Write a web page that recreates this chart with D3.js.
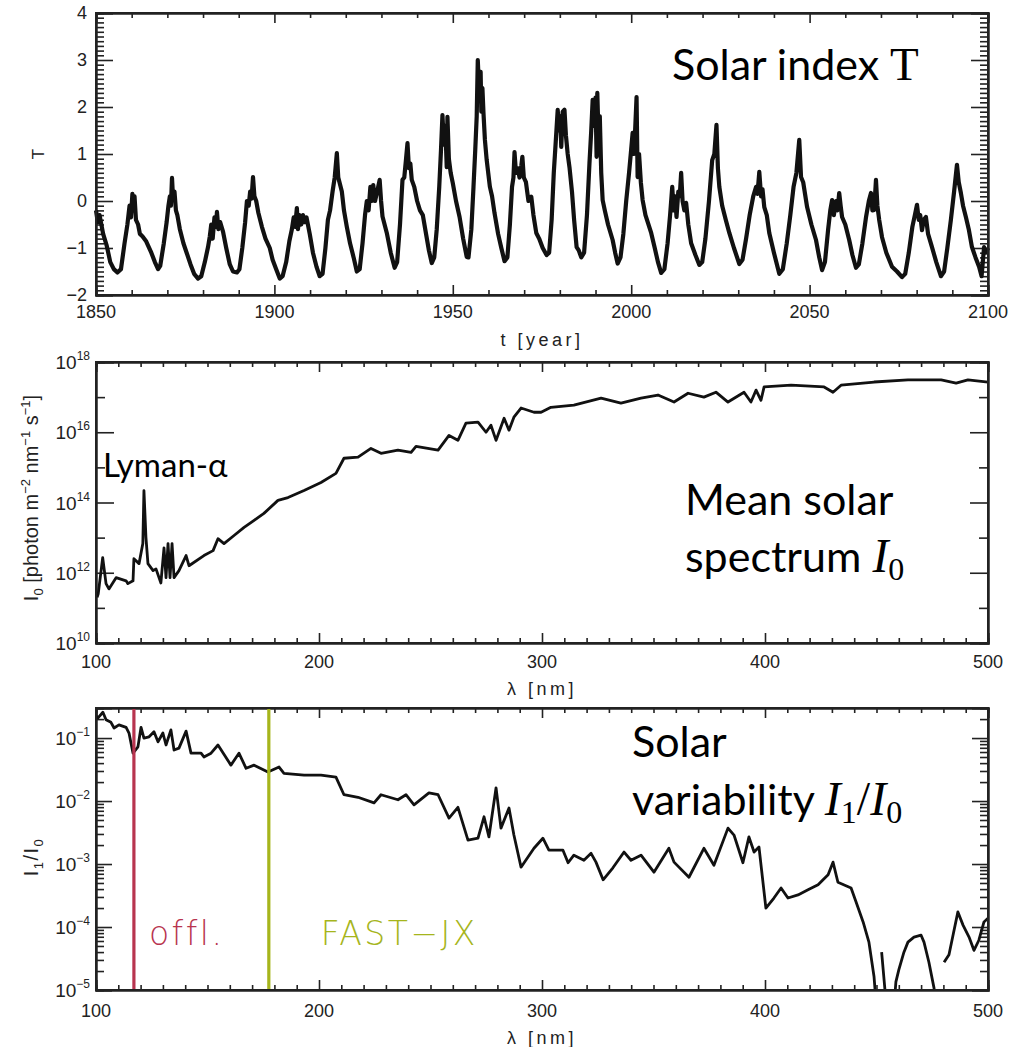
<!DOCTYPE html>
<html>
<head>
<meta charset="utf-8">
<script src="https://cdn.jsdelivr.net/npm/d3@7"></script>
<style>
body { margin: 0; background: #fff; }
svg { display: block; }
</style>
</head>
<body>
<div id="wrapper"></div>
<script>
// ---- data ----
// solar index T vs year
const solarIndex = [
[1850.0,-0.2],[1850.5,-0.45],[1851.0,-0.3],[1852.0,-0.7],[1853.0,-0.95],[1854.0,-1.3],[1855.0,-1.45],[1856.0,-1.52],[1857.0,-1.45],
[1858.0,-0.9],[1858.8,-0.5],[1859.4,-0.1],[1859.8,-0.35],[1860.2,0.15],[1860.5,-0.2],[1860.8,0.1],[1861.2,-0.4],[1861.8,-0.5],[1862.3,-0.7],
[1863.0,-0.75],[1864.0,-0.85],[1864.6,-0.95],[1865.5,-1.1],[1866.5,-1.3],[1867.4,-1.45],[1868.0,-1.38],[1869.0,-0.9],[1869.8,-0.45],
[1870.3,-0.1],[1870.7,0.1],[1871.0,-0.1],[1871.3,0.49],[1871.6,0.05],[1872.0,0.2],[1872.4,-0.2],[1872.8,-0.3],[1873.5,-0.6],[1874.5,-0.9],
[1875.4,-1.1],[1876.5,-1.35],[1877.5,-1.55],[1878.6,-1.65],[1879.5,-1.6],[1880.5,-1.3],[1881.4,-0.98],[1881.9,-0.75],[1882.3,-0.5],
[1882.7,-0.8],[1883.2,-0.35],[1883.6,-0.55],[1883.9,-0.23],[1884.3,-0.6],[1884.8,-0.45],[1885.6,-0.65],[1886.5,-1.0],[1887.5,-1.35],
[1888.4,-1.5],[1889.5,-1.52],[1890.2,-1.45],[1891.0,-1.0],[1891.8,-0.45],[1892.3,0.0],[1892.8,-0.1],[1893.2,0.2],[1893.6,0.05],[1894.0,0.51],
[1894.4,0.1],[1894.9,0.0],[1895.5,-0.25],[1896.5,-0.55],[1897.5,-0.8],[1898.7,-1.0],[1899.5,-1.25],[1900.5,-1.45],[1901.5,-1.65],
[1902.3,-1.6],[1903.3,-1.3],[1904.2,-0.85],[1904.9,-0.6],[1905.4,-0.35],[1905.8,-0.55],[1906.3,-0.15],[1906.6,-0.6],[1907.0,-0.3],
[1907.5,-0.5],[1908.0,-0.3],[1908.5,-0.45],[1909.0,-0.35],[1909.9,-0.7],[1910.8,-1.1],[1911.8,-1.4],[1912.7,-1.6],[1913.5,-1.55],
[1914.3,-1.0],[1915.0,-0.4],[1915.6,-0.2],[1916.3,0.2],[1916.9,0.5],[1917.5,1.02],[1917.9,0.5],[1918.4,0.35],[1918.9,0.2],[1919.5,-0.2],
[1920.3,-0.55],[1921.2,-0.9],[1922.2,-1.2],[1923.1,-1.5],[1923.9,-1.45],[1924.7,-0.9],[1925.4,-0.3],[1925.9,0.0],[1926.4,-0.2],
[1926.9,0.3],[1927.3,0.0],[1927.7,0.34],[1928.2,0.0],[1928.8,0.2],[1929.5,0.45],[1929.9,0.0],[1930.3,-0.33],[1931.5,-0.68],[1932.6,-1.1],
[1933.7,-1.42],[1934.4,-1.3],[1935.2,-0.5],[1935.9,0.45],[1936.4,0.5],[1936.9,0.9],[1937.3,1.23],[1937.7,0.7],[1938.1,0.8],[1938.5,0.45],
[1939.2,0.3],[1940.0,0.0],[1940.8,-0.2],[1941.6,-0.3],[1942.5,-0.7],[1943.3,-1.05],[1944.1,-1.32],[1944.8,-1.2],[1945.5,-0.6],[1946.2,0.3],
[1946.7,1.1],[1947.1,1.83],[1947.5,1.2],[1947.9,1.6],[1948.3,0.72],[1948.5,1.79],[1948.9,0.9],[1949.4,0.6],[1950.0,0.38],[1950.9,0.0],
[1951.9,-0.34],[1952.9,-0.8],[1953.9,-1.19],[1954.4,-1.2],[1955.2,-0.6],[1955.8,0.3],[1956.3,1.1],[1956.7,1.8],[1957.0,3.0],[1957.4,2.3],
[1957.8,2.75],[1958.0,1.9],[1958.3,2.4],[1958.6,1.87],[1959.0,1.3],[1959.5,0.87],[1960.4,0.3],[1961.0,0.1],[1961.7,-0.26],[1962.7,-0.7],
[1963.6,-1.0],[1964.5,-1.28],[1965.3,-1.2],[1966.0,-0.5],[1966.6,0.3],[1967.0,0.5],[1967.3,1.04],[1967.7,0.6],[1968.2,0.7],[1968.7,0.5],
[1969.2,0.75],[1969.5,0.94],[1969.9,0.5],[1970.5,0.4],[1971.2,0.0],[1972.0,0.09],[1972.6,-0.3],[1973.4,-0.68],[1974.2,-0.8],[1975.2,-1.0],
[1976.3,-1.15],[1977.0,-1.1],[1977.7,-0.4],[1978.3,0.6],[1978.8,1.2],[1979.4,1.94],[1979.8,1.5],[1980.1,1.8],[1980.4,1.15],[1980.8,1.9],
[1981.3,1.94],[1981.7,1.4],[1982.2,1.0],[1982.7,0.72],[1983.4,0.2],[1984.0,-0.4],[1984.7,-0.98],[1985.3,-1.05],[1986.0,-1.2],[1986.8,-1.1],
[1987.6,-0.3],[1988.3,0.8],[1988.8,1.5],[1989.2,2.15],[1989.6,1.6],[1990.0,2.2],[1990.3,0.94],[1990.5,2.3],[1990.8,1.5],[1991.2,1.8],
[1991.6,0.6],[1992.0,0.02],[1992.6,-0.2],[1993.5,-0.5],[1994.8,-0.83],[1995.5,-1.1],[1996.2,-1.33],[1997.0,-1.2],[1997.8,-0.7],[1998.6,0.0],
[1999.4,0.6],[2000.0,1.1],[2000.4,1.45],[2000.8,1.0],[2001.1,1.5],[2001.5,2.21],[2001.8,0.51],[2002.2,1.0],[2002.7,0.4],[2003.2,0.02],
[2004.0,-0.3],[2005.6,-0.68],[2006.6,-1.0],[2007.5,-1.3],[2008.4,-1.53],[2009.3,-1.45],[2010.2,-0.9],[2010.9,-0.3],[2011.5,0.3],[2011.9,-0.2],
[2012.3,0.1],[2012.7,-0.34],[2013.2,0.2],[2013.6,0.1],[2014.0,0.6],[2014.4,0.0],[2014.9,-0.2],[2015.4,-0.04],[2016.0,-0.5],[2016.8,-0.9],
[2018.0,-1.15],[2019.1,-1.36],[2019.9,-1.3],[2020.8,-0.8],[2021.8,0.0],[2022.7,0.87],[2023.3,1.0],[2023.9,1.62],[2024.3,0.7],[2024.7,0.3],
[2025.5,-0.1],[2026.5,-0.4],[2027.5,-0.68],[2028.8,-1.0],[2030.3,-1.34],[2031.2,-1.25],[2032.2,-0.8],[2033.2,-0.3],[2034.2,0.1],[2035.0,0.3],
[2035.4,0.15],[2035.9,0.62],[2036.4,0.1],[2036.8,0.25],[2037.3,-0.13],[2038.0,-0.3],[2038.7,-0.68],[2040.0,-1.1],[2041.5,-1.55],[2042.5,-1.45],
[2043.6,-0.9],[2044.6,-0.3],[2045.5,0.3],[2046.3,0.6],[2047.1,1.3],[2047.6,0.51],[2048.2,0.4],[2049.3,-0.13],[2050.5,-0.5],[2051.8,-0.83],
[2052.7,-1.2],[2053.5,-1.47],[2054.3,-1.3],[2055.2,-0.6],[2055.8,-0.2],[2056.3,0.02],[2056.8,-0.3],[2057.4,0.0],[2057.8,-0.2],[2058.3,0.17],
[2058.7,-0.1],[2059.1,-0.34],[2060.0,-0.5],[2061.1,-0.83],[2062.0,-1.15],[2063.0,-1.42],[2063.8,-1.35],[2064.8,-0.9],[2065.8,-0.35],
[2066.6,0.0],[2067.2,0.17],[2067.6,-0.2],[2068.1,-0.19],[2068.6,0.45],[2069.0,-0.1],[2069.5,-0.4],[2070.3,-0.77],[2071.5,-1.1],[2073.1,-1.4],
[2074.5,-1.5],[2075.9,-1.62],[2076.8,-1.55],[2077.8,-1.1],[2078.8,-0.55],[2079.5,-0.3],[2080.1,-0.08],[2080.6,-0.4],[2081.0,-0.3],
[2081.5,-0.62],[2082.0,-0.4],[2082.6,-0.34],[2083.2,-0.7],[2084.3,-0.98],[2085.5,-1.3],[2086.8,-1.6],[2087.7,-1.5],[2088.6,-1.0],
[2089.6,-0.4],[2090.5,0.2],[2091.3,0.77],[2091.8,0.4],[2092.4,0.17],[2093.0,-0.1],[2093.8,-0.34],[2094.6,-0.6],[2095.5,-0.98],[2096.5,-1.2],
[2097.5,-1.4],[2098.2,-1.6],[2098.9,-0.98],[2099.4,-1.1],[2100.0,-1.0]
]

// mean solar spectrum: wavelength [nm], log10 I0 [photon m-2 nm-1 s-1]
const meanSpectrum = [
[100.5,11.3],[101,11.4],[103,12.43],[104.5,11.69],[105.8,11.54],[109,11.86],[113.5,11.77],[114.3,11.69],[116.6,11.77],[117,12.4],
[119.3,12.26],[121,12.83],[121.5,14.34],[122.4,13.0],[123.3,12.26],[125.6,12.06],[126.9,12.11],[129.1,11.71],[130.5,12.71],[131.4,11.86],
[132.3,12.83],[133.2,11.86],[134.1,12.83],[135,11.86],[137.2,12.06],[140.4,12.49],[141.7,12.2],[148.4,12.49],[152.5,12.63],[154.7,12.97],
[157.4,12.83],[161.9,13.06],[166.4,13.29],[170.9,13.49],[175.3,13.69],[181.6,14.06],[186.1,14.14],[193.3,14.34],[200.9,14.57],[207.6,14.83],
[211.2,15.26],[217.5,15.29],[223.3,15.54],[227.8,15.4],[235.4,15.49],[241.3,15.43],[243.5,15.6],[253.4,15.49],[258.3,15.91],[262.3,15.77],
[265.9,16.26],[271.3,16.29],[274.9,16.0],[277.1,16.2],[279.4,15.77],[283,16.4],[285.2,16.06],[287.4,16.43],[290.6,16.69],[296.4,16.57],
[299.6,16.57],[304,16.71],[314.3,16.77],[326.5,16.97],[335.4,16.83],[344.4,16.97],[352,17.06],[359.2,16.86],[365.5,17.11],[372.6,17.0],
[378,17.14],[383.4,16.86],[390.6,17.14],[393.7,16.86],[396,17.2],[398.2,16.91],[399.6,17.29],[411.7,17.34],[426.5,17.29],[430.5,17.14],
[434.1,17.34],[448.9,17.43],[464.1,17.49],[479,17.49],[485.7,17.4],[491,17.49],[500,17.43]
]

// solar variability: wavelength [nm], log10 I1/I0 (null = negative, not drawn)
const variability = [
[100,-0.65],[100.9,-0.68],[103.1,-0.59],[104.5,-0.71],[106.7,-0.75],[108.1,-0.84],[110.3,-0.79],[113.5,-0.83],[114.8,-0.92],[116.6,-1.24],
[118.8,-1.14],[120.2,-0.83],[121.5,-1.0],[123.8,-0.98],[126,-0.9],[127.8,-1.06],[130,-0.92],[131.4,-1.11],[133.6,-0.87],[135,-1.19],
[137.2,-1.16],[140.4,-0.89],[142.6,-1.24],[147.1,-1.24],[148.4,-1.3],[151.6,-1.24],[154.7,-1.11],[160.5,-1.43],[164.1,-1.24],[167.3,-1.48],
[170.9,-1.43],[177.1,-1.54],[182.1,-1.46],[184.3,-1.56],[193.3,-1.59],[200.9,-1.59],[207.6,-1.62],[211.2,-1.9],[217.5,-1.94],[224.7,-2.03],
[227.8,-1.9],[235.4,-1.98],[239,-1.9],[242.6,-2.06],[249.3,-1.87],[253.4,-1.9],[258.3,-2.27],[262.3,-2.1],[266.8,-2.62],[271.3,-2.59],
[274,-2.25],[276.2,-2.57],[279.4,-1.79],[281.6,-2.43],[285.2,-2.11],[287.4,-2.54],[290.6,-3.05],[296.4,-2.75],[300.4,-2.59],[303.1,-2.78],
[309.4,-2.78],[311.7,-2.98],[314.3,-2.86],[318.8,-2.94],[322,-2.83],[324.2,-2.97],[327.4,-3.25],[331.8,-3.06],[336.8,-2.81],[339.9,-2.94],
[344.4,-2.86],[350.2,-3.13],[356.9,-2.75],[359.2,-2.97],[365.9,-3.21],[372.6,-2.75],[377.1,-3.02],[383.4,-2.43],[386.1,-2.54],[390.1,-2.98],
[392.8,-2.57],[395.1,-2.81],[397.3,-2.73],[400.4,-3.7],[404,-3.54],[407.2,-3.38],[410.3,-3.54],[414.8,-3.49],[419.3,-3.41],[423.8,-3.33],
[428.3,-3.17],[430.5,-2.97],[432.7,-3.29],[438.6,-3.38],[440.8,-3.6],[444,-3.92],[446.6,-4.24],[448.9,-4.79],[449.8,-5.2],[450.5,null],
[452.3,-4.4],[454.3,-5.2],[455,null],[458.2,-5.1],[458.7,-4.87],[460,-4.68],[462.3,-4.4],[464.1,-4.24],[466.8,-4.16],[470,-4.13],
[471.3,-4.24],[473.5,-4.56],[475.8,-4.97],[476.5,-5.2],[478,null],[480.3,-4.56],[482.5,-4.44],[484.5,-4.1],[486.5,-3.76],[488.8,-3.97],
[491.5,-4.16],[493.7,-4.37],[495.9,-4.21],[498.2,-3.92],[500,-3.86]
]

const yearTicks = [1850, 1900, 1950, 2000, 2050, 2100]
const yearMinor = [1860, 1870, 1880, 1890, 1910, 1920, 1930, 1940, 1960, 1970, 1980, 1990, 2010, 2020, 2030, 2040, 2060, 2070, 2080, 2090]
const tTicks = [-2, -1, 0, 1, 2, 3, 4]
const wlTicks = [100, 200, 300, 400, 500]
const wlMinor = [110, 120, 130, 140, 150, 160, 170, 180, 190, 210, 220, 230, 240, 250, 260, 270, 280, 290,
    310, 320, 330, 340, 350, 360, 370, 380, 390, 410, 420, 430, 440, 450, 460, 470, 480, 490]
const i0Exps = [10, 12, 14, 16, 18]
const i0MinorExps = [11, 13, 15, 17]
const ratioExps = [-5, -4, -3, -2, -1]
const cutoffWl = [117, 177.5]
const cutoffNames = ["offl.", "FAST\u2212JX"]
const cutoffColors = ["#b8344f", "#a6b51c"]

window.addEventListener("load", paint)

function paint() {
    const ink = "#222"
    const tickFont = "Liberation Sans"
    const left = 96, right = 988

    const svg = d3.select("#wrapper").append("svg")
        .attr("width", 1010).attr("height", 1047)

    // scales
    const xT = d3.scaleLinear().domain([1850, 2100]).range([left, right])
    const yT = d3.scaleLinear().domain([-2, 4]).range([295, 13])
    const xW = d3.scaleLinear().domain([100, 500]).range([left, right])
    const yI = d3.scaleLog().domain([1e10, 1e18]).range([643, 362])
    const yR = d3.scaleLog().domain([1e-5, 0.3]).range([990, 708])

    const tMinor = []
    for (let k = -19; k < 40; k++) if (k % 10 !== 0) tMinor.push(k / 10)
    const ratioMinor = []
    for (const e of ratioExps) for (let m = 2; m < 10; m++) if (m * Math.pow(10, e) < 0.29) ratioMinor.push(m * Math.pow(10, e))

    // ---------- inward ticks: one d3 axis per side and per tick class ----------
    const axesG = svg.append("g")
    function side(axisFn, scale, values, size, tx, ty) {
        const a = axisFn(scale).tickValues(values).tickSize(-size).tickFormat(() => "")
        axesG.append("g").attr("transform", "translate(" + tx + "," + ty + ")").call(a)
    }
    function panelTicks(x, y, xMaj, xMin, yMaj, yMin, len) {
        const yb = y.range()[0], yt = y.range()[1]
        side(d3.axisBottom, x, xMaj, len[0], 0, yb)
        side(d3.axisBottom, x, xMin, len[1], 0, yb)
        side(d3.axisTop, x, xMaj, len[0], 0, yt)
        side(d3.axisTop, x, xMin, len[1], 0, yt)
        side(d3.axisLeft, y, yMaj, len[2], left, 0)
        side(d3.axisLeft, y, yMin, len[3], left, 0)
        side(d3.axisRight, y, yMaj, len[2], right, 0)
        side(d3.axisRight, y, yMin, len[3], right, 0)
    }
    panelTicks(xT, yT, yearTicks, yearMinor, tTicks, tMinor, [10, 5, 17, 8])
    panelTicks(xW, yI, wlTicks, wlMinor, i0Exps.map(e => Math.pow(10, e)), i0MinorExps.map(e => Math.pow(10, e)), [10, 5, 18, 9])
    panelTicks(xW, yR, wlTicks, wlMinor, ratioExps.map(e => Math.pow(10, e)), ratioMinor, [10, 5, 16, 8])
    axesG.selectAll("line").attr("stroke", ink).attr("stroke-width", 1.6)
    axesG.selectAll(".domain").attr("stroke", ink).attr("stroke-width", 2)

    // ---------- panel 1 : solar index ----------
    const g1 = svg.append("g")
    g1.append("path").datum(solarIndex)
        .attr("fill", "none").attr("stroke", "#111").attr("stroke-width", 4.2)
        .attr("stroke-linejoin", "round")
        .attr("d", d3.line().x(d => xT(d[0])).y(d => yT(d[1])))
    for (const v of yearTicks) {
        g1.append("text").attr("x", xT(v)).attr("y", 318).attr("text-anchor", "middle")
            .attr("font-family", tickFont).attr("font-size", 18).attr("fill", ink).text(v)
    }
    for (const v of tTicks) {
        g1.append("text").attr("x", 87).attr("y", yT(v) + 6).attr("text-anchor", "end")
            .attr("font-family", tickFont).attr("font-size", 18).attr("fill", ink)
            .text(v < 0 ? "\u2212" + (-v) : v)
    }
    xTitle(g1, 346, "t [year]")
    g1.append("text").attr("transform", "translate(44,154) rotate(-90)").attr("text-anchor", "middle")
        .attr("font-family", tickFont).attr("font-size", 17).attr("fill", ink).text("T")
    const t1 = g1.append("text").attr("x", 672).attr("y", 80)
        .attr("font-family", "Lato").attr("font-size", 43).attr("fill", "#000")
    t1.append("tspan").text("Solar index ")
    t1.append("tspan").attr("font-family", "Liberation Serif").attr("font-size", 47).text("T")

    // ---------- panel 2 : mean spectrum ----------
    const g2 = svg.append("g")
    g2.append("path").datum(meanSpectrum)
        .attr("fill", "none").attr("stroke", "#111").attr("stroke-width", 2.8)
        .attr("stroke-linejoin", "round")
        .attr("d", d3.line().x(d => xW(d[0])).y(d => yI(Math.pow(10, d[1]))))
    xLabels(g2, xW, 668)
    powLabels(g2, yI, i0Exps)
    xTitle(g2, 695, "\u03bb [nm]")
    const yt2 = g2.append("text").attr("transform", "translate(38,498) rotate(-90)").attr("text-anchor", "middle")
        .attr("font-family", tickFont).attr("font-size", 20).attr("fill", ink)
    yt2.append("tspan").text("I")
    yt2.append("tspan").attr("font-size", 13).attr("dy", 5).text("0")
    yt2.append("tspan").attr("dy", -5).text(" [photon m")
    yt2.append("tspan").attr("font-size", 13).attr("dy", -8).text("\u22122")
    yt2.append("tspan").attr("dy", 8).text(" nm")
    yt2.append("tspan").attr("font-size", 13).attr("dy", -8).text("\u22121")
    yt2.append("tspan").attr("dy", 8).text(" s")
    yt2.append("tspan").attr("font-size", 13).attr("dy", -8).text("\u22121")
    yt2.append("tspan").attr("dy", 8).text("]")
    g2.append("text").attr("x", 103).attr("y", 477)
        .attr("font-family", "Lato").attr("font-size", 33).attr("fill", "#000").text("Lyman-\u03b1")
    g2.append("text").attr("x", 685).attr("y", 515)
        .attr("font-family", "Lato").attr("font-size", 43).attr("fill", "#000").text("Mean solar")
    const t2 = g2.append("text").attr("x", 685).attr("y", 572)
        .attr("font-family", "Lato").attr("font-size", 43).attr("fill", "#000")
    t2.append("tspan").text("spectrum ")
    t2.append("tspan").attr("font-family", "Liberation Serif").attr("font-style", "italic").attr("font-size", 48).text("I")
    t2.append("tspan").attr("font-family", "Liberation Serif").attr("font-size", 32).attr("dy", 8).text("0")

    // ---------- panel 3 : variability ----------
    const g3 = svg.append("g")
    const clip = svg.append("defs").append("clipPath").attr("id", "clip3")
    clip.append("rect").attr("x", left).attr("y", 708).attr("width", right - left).attr("height", 282)
    g3.append("path").datum(variability)
        .attr("clip-path", "url(#clip3)")
        .attr("fill", "none").attr("stroke", "#111").attr("stroke-width", 2.8)
        .attr("stroke-linejoin", "round")
        .attr("d", d3.line().defined(d => d[1] != null).x(d => xW(d[0])).y(d => yR(Math.pow(10, d[1]))))
    cutoffWl.forEach((w, i) => {
        g3.append("line")
            .attr("x1", xW(w)).attr("x2", xW(w)).attr("y1", 708).attr("y2", 990)
            .attr("stroke", cutoffColors[i]).attr("stroke-width", 3.2)
        g3.append("text").attr("x", xW(w) + 15 + (i ? 37 : 0)).attr("y", 945)
            .attr("font-family", "DejaVu Sans").attr("font-weight", 200).attr("font-size", 33)
            .attr("letter-spacing", 2.5).attr("fill", cutoffColors[i])
            .text(cutoffNames[i])
    })
    xLabels(g3, xW, 1017)
    powLabels(g3, yR, ratioExps)
    xTitle(g3, 1044, "\u03bb [nm]")
    const yt3 = g3.append("text").attr("transform", "translate(38,857) rotate(-90)").attr("text-anchor", "middle")
        .attr("font-family", tickFont).attr("font-size", 20).attr("fill", ink).attr("letter-spacing", 1.5)
    yt3.append("tspan").text("I")
    yt3.append("tspan").attr("font-size", 13).attr("dy", 5).text("1")
    yt3.append("tspan").attr("dy", -5).text("/I")
    yt3.append("tspan").attr("font-size", 13).attr("dy", 5).text("0")
    g3.append("text").attr("x", 632).attr("y", 757)
        .attr("font-family", "Lato").attr("font-size", 43).attr("fill", "#000").text("Solar")
    const t3 = g3.append("text").attr("x", 632).attr("y", 815)
        .attr("font-family", "Lato").attr("font-size", 43).attr("fill", "#000")
    t3.append("tspan").text("variability ")
    const serif = (txt, it, fs, dy) => t3.append("tspan").attr("font-family", "Liberation Serif")
        .attr("font-style", it ? "italic" : "normal").attr("font-size", fs).attr("dy", dy).text(txt)
    serif("I", true, 48, 0)
    serif("1", false, 32, 8)
    serif("/", false, 48, -8)
    serif("I", true, 48, 0)
    serif("0", false, 32, 8)

    // frames
    for (const y of [yT, yI, yR]) {
        const yb = y.range()[0], yt = y.range()[1]
        svg.append("rect").attr("x", left).attr("y", yt).attr("width", right - left).attr("height", yb - yt)
            .attr("fill", "none").attr("stroke", ink).attr("stroke-width", 2)
    }

    // ---------- helpers ----------
    function xLabels(g, x, yy) {
        for (const v of wlTicks) {
            g.append("text").attr("x", x(v)).attr("y", yy).attr("text-anchor", "middle")
                .attr("font-family", tickFont).attr("font-size", 18).attr("fill", ink).text(v)
        }
    }
    function xTitle(g, yy, txt) {
        g.append("text").attr("x", (left + right) / 2).attr("y", yy).attr("text-anchor", "middle")
            .attr("font-family", tickFont).attr("font-size", 18).attr("letter-spacing", 3.5)
            .attr("fill", ink).text(txt)
    }
    function powLabels(g, y, exps) {
        for (const e of exps) {
            const t = g.append("text").attr("x", 90).attr("y", y(Math.pow(10, e)) + 7).attr("text-anchor", "end")
                .attr("font-family", tickFont).attr("font-size", 19).attr("fill", ink)
            t.append("tspan").text("10")
            t.append("tspan").attr("font-size", 12).attr("dy", -9).text(e < 0 ? "\u2212" + (-e) : e)
        }
    }
}
</script>
</body>
</html>
